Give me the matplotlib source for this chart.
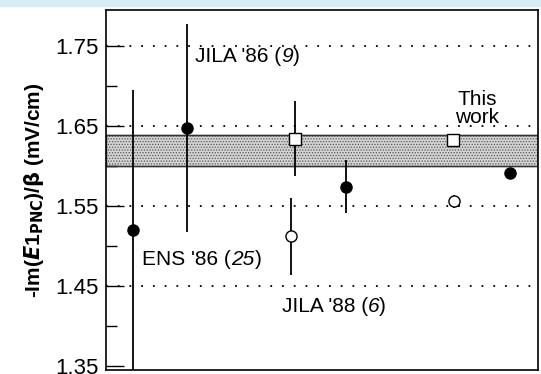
import matplotlib.pyplot as plt
import matplotlib.patches as mpatches

plt.rcParams["font.family"] = ["Liberation Sans", "DejaVu Sans"]
plt.rcParams["hatch.linewidth"] = 0.6

# measurements (x position is arbitrary ordering along the plot)
filled_x = [1.0, 3.0, 8.9, 14.95]
filled_y = [1.520, 1.648, 1.574, 1.591]
filled_err = [0.175, 0.130, 0.033, 0.0]

open_circ_x = [6.85, 12.9]
open_circ_y = [1.512, 1.556]
open_circ_err = [0.048, 0.008]

open_sq_x = [7.0, 12.85]
open_sq_y = [1.634, 1.632]
open_sq_err = [0.047, 0.007]

band_lo, band_hi = 1.600, 1.639
grid_levels = [1.45, 1.55, 1.65, 1.75]
major_ticks = [1.35, 1.45, 1.55, 1.65, 1.75]
minor_ticks = [1.40, 1.50, 1.60, 1.70]
tick_labels = ["1.35", "1.45", "1.55", "1.65", "1.75"]

fig = plt.figure(figsize=(5.41, 3.74), dpi=100)
# light blue strip at the very top of the scan
fig.patches.append(mpatches.Rectangle((0, 0.985), 1, 0.015, transform=fig.transFigure,
                                      color="#d6ecf7", zorder=0))
ax = fig.add_axes([106 / 541, 4 / 374, 432 / 541, 360 / 374])
ax.set_xlim(0, 16)
ax.set_ylim(1.345, 1.795)

# shaded band
ax.axhspan(band_lo, band_hi, facecolor="#d4d4d4", edgecolor="#555555",
           hatch="......", linewidth=1.0, zorder=1)
ax.axhline(band_lo, color="#333333", lw=1.0, zorder=2)
ax.axhline(band_hi, color="#333333", lw=1.0, zorder=2)

for g in grid_levels:
    ax.axhline(g, color="black", lw=1.3, linestyle=(0, (1, 5.5)), zorder=1.5)

ax.errorbar(filled_x, filled_y, yerr=filled_err, fmt="o", color="black",
            ms=8, elinewidth=1.3, capsize=0, zorder=4)
ax.errorbar(open_circ_x, open_circ_y, yerr=open_circ_err, fmt="o", mfc="white",
            mec="black", ecolor="black", ms=8, mew=1.0, elinewidth=1.3, capsize=0, zorder=4)
ax.errorbar(open_sq_x, open_sq_y, yerr=open_sq_err, fmt="s", mfc="white",
            mec="black", ecolor="black", ms=8.5, mew=1.0, elinewidth=1.3, capsize=0, zorder=5)

ax.set_yticks(major_ticks)
ax.set_yticklabels(tick_labels, fontsize=16)
ax.set_yticks(minor_ticks, minor=True)
ax.tick_params(axis="y", which="major", direction="in", length=13, width=1.0, pad=5)
ax.tick_params(axis="y", which="minor", direction="in", length=8, width=1.0)
ax.set_xticks([])
for s in ax.spines.values():
    s.set_linewidth(1.2)

ax.set_ylabel(r"-Im($\mathbfit{E}$1$_{\mathbf{PNC}}$)/$\mathbf{\beta}$ (mV/cm)",
              fontsize=15, fontweight="bold", labelpad=7)

tfs = 15


def label(x, y, parts):
    t = None
    for txt, it in parts:
        if t is None:
            t = ax.text(x, y, txt, fontsize=tfs, style="italic" if it else "normal",
                        ha="left", va="center")
        else:
            t = ax.annotate(txt, xycoords=t, xy=(1, 0), va="bottom", ha="left",
                            fontsize=tfs, style="italic" if it else "normal")
    return t


label(3.3, 1.737, [("JILA '86 (", False), ("9", True), (")", False)])
label(1.35, 1.483, [("ENS '86 (", False), ("25", True), (")", False)])
label(6.5, 1.424, [("JILA '88 (", False), ("6", True), (")", False)])
ax.text(13.75, 1.672, "This\nwork", fontsize=tfs, ha="center", va="center", linespacing=0.95)

fig.savefig("out.png", dpi=100)
